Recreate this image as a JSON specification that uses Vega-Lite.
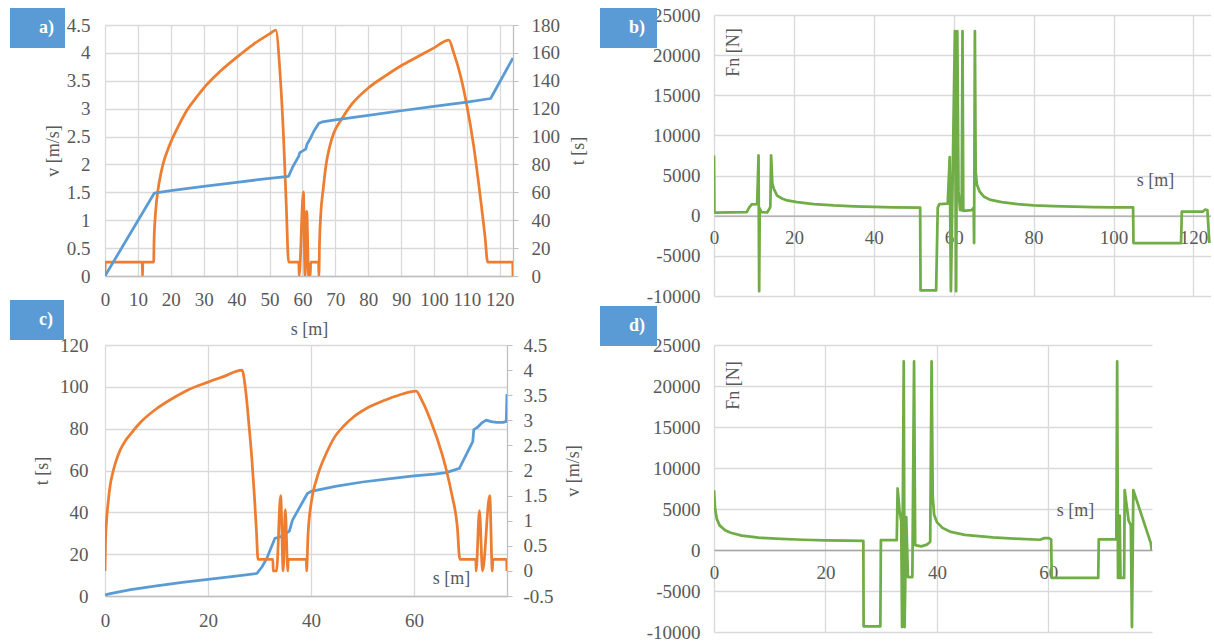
{
"$schema": "https://vega.github.io/schema/vega-lite/v6.json",
"background": "white",
"padding": {"left": 10, "top": 6, "right": 0, "bottom": 0},
"config": {
  "view": {"stroke": null},
  "font": "Liberation Serif",
  "style": {"guide-label": {"font": "Liberation Serif", "fontSize": 19, "fill": "#595959"}, "guide-title": {"font": "Liberation Serif", "fontSize": 18, "fill": "#595959", "fontWeight": "normal"}},
  "axis": {"labelFont": "Liberation Serif", "labelFontSize": 19, "labelColor": "#595959", "titleFont": "Liberation Serif", "titleFontSize": 18, "titleFontWeight": "normal", "titleColor": "#595959", "gridColor": "#D9D9D9", "gridWidth": 1.3, "domainColor": "#BFBFBF", "domainWidth": 1.3, "tickColor": "#BFBFBF", "ticks": false, "labelFlush": false, "labelOverlap": false},
  "legend": {"orient": "none", "fillColor": "#5B9BD5", "padding": 11, "labelColor": "#FFFFFF", "labelFont": "Liberation Serif", "labelFontSize": 18, "labelFontWeight": "bold", "symbolSize": 0, "symbolOpacity": 0, "symbolStrokeWidth": 0, "labelOffset": 0}
},
"datasets": {
  "av": [{"s":0,"v":0},{"s":0.05,"v":0.25},{"s":11.3,"v":0.25},{"s":11.4,"v":0},{"s":11.5,"v":0.25},{"s":14.8,"v":0.25},{"s":14.9,"v":0.6},{"s":15.2,"v":1.0},{"s":15.6,"v":1.3},{"s":16,"v":1.5},{"s":17,"v":1.84},{"s":18,"v":2.08},{"s":19,"v":2.25},{"s":20,"v":2.4},{"s":22,"v":2.65},{"s":25,"v":2.98},{"s":28,"v":3.22},{"s":30,"v":3.37},{"s":35,"v":3.67},{"s":40,"v":3.92},{"s":45,"v":4.15},{"s":50,"v":4.34},{"s":51.9,"v":4.41},{"s":53.2,"v":3.64},{"s":54.3,"v":2.44},{"s":55.1,"v":1.25},{"s":55.8,"v":0.25},{"s":58.9,"v":0.25},{"s":59.0,"v":0},{"s":60.3,"v":1.51},{"s":60.8,"v":0},{"s":61.3,"v":1.16},{"s":61.9,"v":0},{"s":62.4,"v":0},{"s":62.5,"v":0.25},{"s":64.9,"v":0.25},{"s":65.0,"v":0},{"s":65.2,"v":0.6},{"s":65.6,"v":1.13},{"s":66.3,"v":1.55},{"s":67.2,"v":2.0},{"s":68.2,"v":2.3},{"s":69.5,"v":2.56},{"s":72,"v":2.82},{"s":75,"v":3.08},{"s":80,"v":3.37},{"s":85,"v":3.58},{"s":90,"v":3.77},{"s":95,"v":3.93},{"s":100,"v":4.09},{"s":104.5,"v":4.23},{"s":106,"v":4.0},{"s":108,"v":3.6},{"s":110,"v":3.05},{"s":112,"v":2.35},{"s":114,"v":1.45},{"s":115.5,"v":0.7},{"s":116.3,"v":0.25},{"s":123.9,"v":0.25},{"s":124,"v":0}],
  "at": [{"s":0,"t":0},{"s":15,"t":59.5},{"s":20,"t":61.3},{"s":30,"t":64.3},{"s":40,"t":67.2},{"s":50,"t":70},{"s":55.8,"t":71.5},{"s":57,"t":78},{"s":58.9,"t":86},{"s":59.2,"t":88.5},{"s":61,"t":91},{"s":61.4,"t":94.5},{"s":62.5,"t":99},{"s":63.5,"t":104},{"s":65,"t":109.5},{"s":66,"t":110.5},{"s":70,"t":112},{"s":80,"t":115.2},{"s":90,"t":118.5},{"s":100,"t":121.7},{"s":110,"t":124.7},{"s":117.2,"t":127.3},{"s":124,"t":156.4}],
  "bf": [{"s":0,"fn":7500},{"s":0.1,"fn":400},{"s":8.2,"fn":450},{"s":8.8,"fn":1000},{"s":9.4,"fn":1400},{"s":10.8,"fn":1450},{"s":11.15,"fn":7500},{"s":11.3,"fn":-9400},{"s":11.45,"fn":900},{"s":11.9,"fn":450},{"s":13.3,"fn":400},{"s":13.8,"fn":800},{"s":14.1,"fn":1100},{"s":14.3,"fn":7500},{"s":14.6,"fn":4000},{"s":15,"fn":3300},{"s":15.8,"fn":2500},{"s":17,"fn":2150},{"s":18.3,"fn":1900},{"s":20.8,"fn":1700},{"s":25,"fn":1450},{"s":30,"fn":1280},{"s":35,"fn":1170},{"s":40,"fn":1100},{"s":45,"fn":1050},{"s":51.6,"fn":1000},{"s":51.7,"fn":-9300},{"s":55.6,"fn":-9300},{"s":56.0,"fn":1000},{"s":56.4,"fn":1450},{"s":58.5,"fn":1500},{"s":59.0,"fn":7300},{"s":59.3,"fn":-9400},{"s":59.7,"fn":3500},{"s":60.3,"fn":23000},{"s":60.6,"fn":-9400},{"s":60.9,"fn":23000},{"s":61.2,"fn":3000},{"s":61.6,"fn":700},{"s":62.0,"fn":700},{"s":62.2,"fn":23000},{"s":62.4,"fn":600},{"s":64.5,"fn":700},{"s":65.0,"fn":1000},{"s":65.1,"fn":-3400},{"s":65.3,"fn":23000},{"s":65.5,"fn":5500},{"s":65.8,"fn":3900},{"s":66.5,"fn":3000},{"s":67.5,"fn":2400},{"s":69,"fn":2000},{"s":72,"fn":1700},{"s":76,"fn":1450},{"s":80,"fn":1300},{"s":85,"fn":1200},{"s":90,"fn":1130},{"s":95,"fn":1080},{"s":100,"fn":1050},{"s":104.9,"fn":1030},{"s":105,"fn":-3400},{"s":116.9,"fn":-3400},{"s":117.1,"fn":500},{"s":122.3,"fn":500},{"s":122.9,"fn":750},{"s":123.5,"fn":700},{"s":124,"fn":-3400}],
  "ct": [{"s":0,"t":0.5},{"s":1,"t":1.1},{"s":5,"t":3},{"s":10,"t":4.8},{"s":15,"t":6.5},{"s":20,"t":8},{"s":25,"t":9.4},{"s":29.5,"t":10.8},{"s":30.5,"t":14},{"s":31.5,"t":18.5},{"s":33,"t":27.6},{"s":34.2,"t":28.4},{"s":35.8,"t":31},{"s":36.4,"t":36.3},{"s":39.3,"t":49},{"s":40,"t":50},{"s":45,"t":52.5},{"s":50,"t":54.5},{"s":55,"t":56},{"s":60,"t":57.4},{"s":64,"t":58.3},{"s":66.2,"t":59},{"s":68.8,"t":61},{"s":71.4,"t":73.8},{"s":71.6,"t":79.5},{"s":72.3,"t":80.6},{"s":73.1,"t":82.6},{"s":74,"t":84.1},{"s":75,"t":83.4},{"s":76,"t":83},{"s":77.3,"t":83},{"s":77.9,"t":83.5},{"s":78.05,"t":96.6}],
  "cv": [{"s":0,"v":0},{"s":0.1,"v":0.6},{"s":0.3,"v":1.0},{"s":0.6,"v":1.35},{"s":1,"v":1.7},{"s":1.5,"v":1.95},{"s":2,"v":2.14},{"s":3,"v":2.42},{"s":4,"v":2.6},{"s":5,"v":2.73},{"s":7,"v":2.97},{"s":10,"v":3.23},{"s":13,"v":3.43},{"s":16,"v":3.6},{"s":20,"v":3.76},{"s":23,"v":3.87},{"s":26.6,"v":4.0},{"s":27.3,"v":3.6},{"s":28,"v":2.85},{"s":28.5,"v":2.25},{"s":29,"v":1.5},{"s":29.4,"v":0.8},{"s":29.7,"v":0.23},{"s":32.6,"v":0.23},{"s":32.65,"v":0},{"s":33.3,"v":0},{"s":34.1,"v":1.5},{"s":34.6,"v":0},{"s":35.0,"v":1.22},{"s":35.5,"v":0},{"s":35.55,"v":0.23},{"s":39.1,"v":0.23},{"s":39.15,"v":0},{"s":39.4,"v":0.68},{"s":40.1,"v":1.4},{"s":41,"v":1.8},{"s":41.6,"v":2.0},{"s":43,"v":2.35},{"s":44.6,"v":2.67},{"s":46.5,"v":2.9},{"s":48.3,"v":3.07},{"s":51,"v":3.25},{"s":54.3,"v":3.4},{"s":57,"v":3.5},{"s":60.4,"v":3.58},{"s":61.5,"v":3.4},{"s":63.2,"v":3.0},{"s":65.4,"v":2.34},{"s":66.3,"v":2.0},{"s":67.3,"v":1.54},{"s":68.4,"v":0.88},{"s":68.9,"v":0.23},{"s":72.0,"v":0.23},{"s":72.05,"v":0},{"s":72.7,"v":1.2},{"s":73.3,"v":0},{"s":74.7,"v":1.5},{"s":75.2,"v":0},{"s":75.3,"v":0.23},{"s":77.95,"v":0.23},{"s":78.05,"v":0}],
  "df": [{"s":0,"fn":7300},{"s":0.2,"fn":5000},{"s":0.5,"fn":3800},{"s":1,"fn":3000},{"s":2,"fn":2400},{"s":3,"fn":2100},{"s":5,"fn":1750},{"s":8,"fn":1500},{"s":12,"fn":1350},{"s":16,"fn":1250},{"s":20,"fn":1180},{"s":24,"fn":1130},{"s":26.8,"fn":1100},{"s":26.85,"fn":-9300},{"s":29.85,"fn":-9300},{"s":29.95,"fn":1200},{"s":32.8,"fn":1200},{"s":32.95,"fn":7500},{"s":33.3,"fn":4800},{"s":33.6,"fn":3500},{"s":33.75,"fn":-9400},{"s":34.05,"fn":23000},{"s":34.2,"fn":-9400},{"s":34.5,"fn":4000},{"s":34.8,"fn":-3300},{"s":35.6,"fn":-3300},{"s":35.9,"fn":23000},{"s":36.1,"fn":600},{"s":37.2,"fn":450},{"s":38.2,"fn":650},{"s":38.8,"fn":1000},{"s":39.05,"fn":23000},{"s":39.25,"fn":6500},{"s":39.5,"fn":4300},{"s":40,"fn":3400},{"s":41,"fn":2700},{"s":42.5,"fn":2200},{"s":45,"fn":1850},{"s":50,"fn":1550},{"s":55,"fn":1350},{"s":58.5,"fn":1250},{"s":59.3,"fn":1450},{"s":60.1,"fn":1450},{"s":60.5,"fn":1300},{"s":60.6,"fn":-3400},{"s":68.95,"fn":-3400},{"s":69.05,"fn":1300},{"s":72.2,"fn":1300},{"s":72.35,"fn":23000},{"s":72.5,"fn":-3400},{"s":72.7,"fn":-3400},{"s":72.8,"fn":4200},{"s":72.95,"fn":-3400},{"s":73.6,"fn":-3400},{"s":73.7,"fn":7300},{"s":74.4,"fn":3600},{"s":74.8,"fn":3000},{"s":75.0,"fn":-9400},{"s":75.25,"fn":7300},{"s":78.4,"fn":800},{"s":78.55,"fn":0}]
},
"spacing": 12,
"resolve": {"scale": {"shape": "independent"}, "legend": {"shape": "independent"}},
"hconcat": [
 {
  "vconcat": [
   {"width": 1, "height": 10, "data": {"values": [{}]}, "mark": {"type": "point", "opacity": 0}},
   {
    "width": 408, "height": 251,
    "resolve": {"scale": {"y": "independent"}},
    "layer": [
     {"data": {"name": "av"}, "mark": {"type": "line", "color": "#ED7D31", "strokeWidth": 2.75, "strokeJoin": "round", "interpolate": "monotone", "clip": true},
      "encoding": {
       "x": {"field": "s", "type": "quantitative", "scale": {"domain": [0, 124], "nice": false}, "axis": {"values": [0,10,20,30,40,50,60,70,80,90,100,110,120], "grid": true, "domain": true, "labelPadding": 14, "title": "s [m]", "titlePadding": 11}},
       "y": {"field": "v", "type": "quantitative", "scale": {"domain": [0, 4.5], "nice": false}, "axis": {"values": [0,0.5,1,1.5,2,2.5,3,3.5,4,4.5], "format": "~g", "grid": true, "domain": false, "labelPadding": 15, "title": "v [m/s]", "titlePadding": 4}}
      }},
     {"data": {"name": "at"}, "mark": {"type": "line", "color": "#5B9BD5", "strokeWidth": 2.75, "strokeJoin": "round", "clip": true},
      "encoding": {
       "x": {"field": "s", "type": "quantitative", "scale": {"domain": [0, 124], "nice": false}, "axis": {"values": [0,10,20,30,40,50,60,70,80,90,100,110,120], "grid": true, "domain": true, "labelPadding": 14, "title": "s [m]", "titlePadding": 11}},
       "y": {"field": "t", "type": "quantitative", "scale": {"domain": [0, 180], "nice": false}, "axis": {"orient": "right", "values": [0,20,40,60,80,100,120,140,160,180], "grid": false, "domain": true, "ticks": true, "tickSize": 5, "labelPadding": 13, "title": "t [s]", "titleAngle": 270, "titleBaseline": "top", "titlePadding": 10}}
      }},
     {"data": {"values": [{"panel": "\u00a0a)\u00a0"}]}, "mark": {"type": "point", "opacity": 0},
      "encoding": {"shape": {"field": "panel", "type": "nominal", "legend": {"title": null, "legendX": -95, "legendY": -17}}}}
    ]
   },
   {"width": 1, "height": 69, "data": {"values": [{}]}, "mark": {"type": "point", "opacity": 0}},
   {
    "width": 402, "height": 251,
    "resolve": {"scale": {"y": "independent"}},
    "layer": [
     {"data": {"name": "ct"}, "mark": {"type": "line", "color": "#5B9BD5", "strokeWidth": 2.75, "strokeJoin": "round", "clip": true},
      "encoding": {
       "x": {"field": "s", "type": "quantitative", "scale": {"domain": [0, 78.05], "nice": false}, "axis": {"values": [0,20,40,60], "grid": true, "domain": true, "labelPadding": 15, "title": "s [m]", "titleX": 346, "titleY": -18, "titleAlign": "center", "titleBaseline": "middle"}},
       "y": {"field": "t", "type": "quantitative", "scale": {"domain": [0, 120], "nice": false}, "axis": {"values": [0,20,40,60,80,100,120], "grid": true, "domain": false, "labelPadding": 17, "title": "t [s]", "titlePadding": 8}}
      }},
     {"data": {"name": "cv"}, "mark": {"type": "line", "color": "#ED7D31", "strokeWidth": 2.75, "strokeJoin": "round", "interpolate": "monotone", "clip": true},
      "encoding": {
       "x": {"field": "s", "type": "quantitative", "scale": {"domain": [0, 78.05], "nice": false}, "axis": {"values": [0,20,40,60], "grid": true, "domain": true, "labelPadding": 15, "title": "s [m]", "titleX": 346, "titleY": -18, "titleAlign": "center", "titleBaseline": "middle"}},
       "y": {"field": "v", "type": "quantitative", "scale": {"domain": [-0.5, 4.5], "nice": false}, "axis": {"orient": "right", "values": [-0.5,0,0.5,1,1.5,2,2.5,3,3.5,4,4.5], "format": "~g", "labelExpr": "replace(datum.label, '\u2212', '-')", "grid": false, "domain": true, "ticks": true, "tickSize": 5, "labelPadding": 11, "title": "v [m/s]", "titleAngle": 270, "titleBaseline": "top", "titlePadding": 11}}
      }},
     {"data": {"values": [{"panel": "\u00a0c)\u00a0"}]}, "mark": {"type": "point", "opacity": 0},
      "encoding": {"shape": {"field": "panel", "type": "nominal", "legend": {"title": null, "legendX": -95, "legendY": -45}}}}
    ]
   }
  ],
  "spacing": 0,
  "bounds": "flush",
  "resolve": {"scale": {"shape": "independent"}, "legend": {"shape": "independent"}}
 },
 {
  "vconcat": [
   {
    "width": 497, "height": 281,
    "layer": [
     {"data": {"name": "bf"}, "mark": {"type": "line", "color": "#70AD47", "strokeWidth": 2.75, "strokeJoin": "round", "clip": true},
      "encoding": {
       "x": {"field": "s", "type": "quantitative", "scale": {"domain": [0, 124.4], "nice": false}, "axis": {"values": [0,20,40,60,80,100,120], "grid": true, "domain": true, "domainColor": "#A6A6A6", "offset": -80.3, "labelPadding": 13, "title": "s [m]", "titleX": 441, "titleY": -35, "titleAlign": "center", "titleBaseline": "middle"}},
       "y": {"field": "fn", "type": "quantitative", "scale": {"domain": [-10000, 25000], "nice": false}, "axis": {"values": [-10000,-5000,0,5000,10000,15000,20000,25000], "format": "d", "labelExpr": "replace(datum.label, '\u2212', '-')", "grid": true, "domain": false, "labelPadding": 14, "title": "Fn [N]", "titleX": 19, "titleY": 37, "titleAngle": 270, "titleAlign": "center", "titleBaseline": "middle"}}
      }},
     {"data": {"values": [{"panel": "\u00a0b)\u00a0"}]}, "mark": {"type": "point", "opacity": 0},
      "encoding": {"shape": {"field": "panel", "type": "nominal", "legend": {"title": null, "legendX": -114, "legendY": -7}}}}
    ]
   },
   {"width": 1, "height": 49, "data": {"values": [{}]}, "mark": {"type": "point", "opacity": 0}},
   {
    "width": 438, "height": 287,
    "layer": [
     {"data": {"name": "df"}, "mark": {"type": "line", "color": "#70AD47", "strokeWidth": 2.75, "strokeJoin": "round", "clip": true},
      "encoding": {
       "x": {"field": "s", "type": "quantitative", "scale": {"domain": [0, 78.6], "nice": false}, "axis": {"values": [0,20,40,60], "grid": true, "domain": true, "domainColor": "#A6A6A6", "offset": -82, "labelPadding": 13, "title": "s [m]", "titleX": 361, "titleY": -40, "titleAlign": "center", "titleBaseline": "middle"}},
       "y": {"field": "fn", "type": "quantitative", "scale": {"domain": [-10000, 25000], "nice": false}, "axis": {"values": [-10000,-5000,0,5000,10000,15000,20000,25000], "format": "d", "labelExpr": "replace(datum.label, '\u2212', '-')", "grid": true, "domain": false, "labelPadding": 14, "title": "Fn [N]", "titleX": 19, "titleY": 40, "titleAngle": 270, "titleAlign": "center", "titleBaseline": "middle"}}
      }},
     {"data": {"values": [{"panel": "\u00a0d)\u00a0"}]}, "mark": {"type": "point", "opacity": 0},
      "encoding": {"shape": {"field": "panel", "type": "nominal", "legend": {"title": null, "legendX": -114, "legendY": -39}}}}
    ]
   }
  ],
  "spacing": 0,
  "bounds": "flush",
  "resolve": {"scale": {"shape": "independent"}, "legend": {"shape": "independent"}}
 }
]
}
